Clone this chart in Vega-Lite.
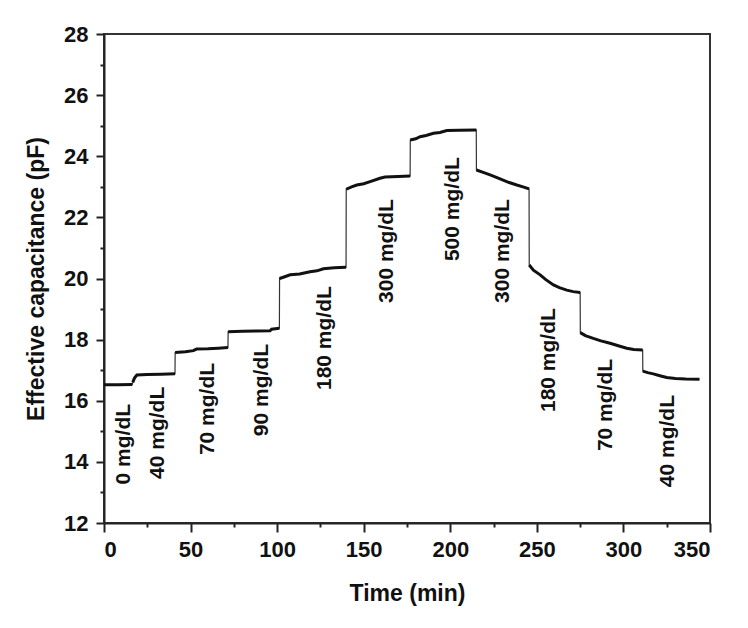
{
  "$schema": "https://vega.github.io/schema/vega-lite/v6.json",
  "width": 606,
  "height": 489,
  "autosize": {"type": "none"},
  "padding": {"left": 104, "top": 34, "right": 38, "bottom": 105},
  "background": "white",
  "config": {
    "view": {"stroke": "#333", "strokeWidth": 2},
    "axis": {"grid": false, "domainColor": "#222", "domainWidth": 2, "tickColor": "#222", "tickWidth": 2,
      "labelFont": "Liberation Sans", "labelFontWeight": "bold", "labelFontSize": 22, "labelColor": "#111",
      "titleFont": "Liberation Sans", "titleFontWeight": "bold", "titleFontSize": 23, "titleColor": "#111"}
  },
  "datasets": {
    "pts": [
      {"i": 1, "seg": 0, "t": 0, "c": 16.52}, {"i": 2, "seg": 0, "t": 8, "c": 16.52}, {"i": 3, "seg": 0, "t": 16.3, "c": 16.53},
      {"i": 4, "seg": 1, "t": 16.6, "c": 16.6}, {"i": 5, "seg": 1, "t": 17.6, "c": 16.74}, {"i": 6, "seg": 1, "t": 19, "c": 16.84}, {"i": 7, "seg": 1, "t": 25, "c": 16.86}, {"i": 8, "seg": 1, "t": 33, "c": 16.87}, {"i": 9, "seg": 1, "t": 41, "c": 16.88},
      {"i": 10, "seg": 2, "t": 41.1, "c": 17.58}, {"i": 11, "seg": 2, "t": 47, "c": 17.6}, {"i": 12, "seg": 2, "t": 51.6, "c": 17.64}, {"i": 13, "seg": 2, "t": 53.5, "c": 17.69}, {"i": 14, "seg": 2, "t": 60, "c": 17.7}, {"i": 15, "seg": 2, "t": 66, "c": 17.72}, {"i": 16, "seg": 2, "t": 71.6, "c": 17.74},
      {"i": 17, "seg": 3, "t": 71.7, "c": 18.26}, {"i": 18, "seg": 3, "t": 80, "c": 18.27}, {"i": 19, "seg": 3, "t": 88, "c": 18.28}, {"i": 20, "seg": 3, "t": 95.9, "c": 18.29}, {"i": 21, "seg": 3, "t": 96.8, "c": 18.34}, {"i": 22, "seg": 3, "t": 101.3, "c": 18.37},
      {"i": 23, "seg": 4, "t": 101.4, "c": 20.0}, {"i": 24, "seg": 4, "t": 104, "c": 20.05}, {"i": 25, "seg": 4, "t": 107.5, "c": 20.12}, {"i": 26, "seg": 4, "t": 113, "c": 20.15}, {"i": 27, "seg": 4, "t": 119, "c": 20.22}, {"i": 28, "seg": 4, "t": 123, "c": 20.25}, {"i": 29, "seg": 4, "t": 126.7, "c": 20.32}, {"i": 30, "seg": 4, "t": 133, "c": 20.35}, {"i": 31, "seg": 4, "t": 139.8, "c": 20.37},
      {"i": 32, "seg": 5, "t": 139.9, "c": 22.92}, {"i": 33, "seg": 5, "t": 143, "c": 23.0}, {"i": 34, "seg": 5, "t": 146, "c": 23.06}, {"i": 35, "seg": 5, "t": 150, "c": 23.1}, {"i": 36, "seg": 5, "t": 153.7, "c": 23.17}, {"i": 37, "seg": 5, "t": 159.4, "c": 23.28}, {"i": 38, "seg": 5, "t": 162.3, "c": 23.32}, {"i": 39, "seg": 5, "t": 170, "c": 23.34}, {"i": 40, "seg": 5, "t": 176.8, "c": 23.35},
      {"i": 41, "seg": 6, "t": 176.9, "c": 24.53}, {"i": 42, "seg": 6, "t": 180, "c": 24.57}, {"i": 43, "seg": 6, "t": 182.6, "c": 24.64}, {"i": 44, "seg": 6, "t": 186, "c": 24.68}, {"i": 45, "seg": 6, "t": 190.3, "c": 24.75}, {"i": 46, "seg": 6, "t": 194, "c": 24.78}, {"i": 47, "seg": 6, "t": 198, "c": 24.84}, {"i": 48, "seg": 6, "t": 205, "c": 24.85}, {"i": 49, "seg": 6, "t": 215, "c": 24.86},
      {"i": 50, "seg": 7, "t": 215.1, "c": 23.55}, {"i": 51, "seg": 7, "t": 219, "c": 23.47}, {"i": 52, "seg": 7, "t": 223, "c": 23.39}, {"i": 53, "seg": 7, "t": 227, "c": 23.3}, {"i": 54, "seg": 7, "t": 230.5, "c": 23.22}, {"i": 55, "seg": 7, "t": 234, "c": 23.14}, {"i": 56, "seg": 7, "t": 238.4, "c": 23.06}, {"i": 57, "seg": 7, "t": 242, "c": 23.0}, {"i": 58, "seg": 7, "t": 245.5, "c": 22.93},
      {"i": 59, "seg": 8, "t": 245.6, "c": 20.44}, {"i": 60, "seg": 8, "t": 248, "c": 20.27}, {"i": 61, "seg": 8, "t": 251.9, "c": 20.12}, {"i": 62, "seg": 8, "t": 255, "c": 19.97}, {"i": 63, "seg": 8, "t": 259.6, "c": 19.79}, {"i": 64, "seg": 8, "t": 263, "c": 19.7}, {"i": 65, "seg": 8, "t": 267.3, "c": 19.62}, {"i": 66, "seg": 8, "t": 271, "c": 19.57}, {"i": 67, "seg": 8, "t": 275, "c": 19.54},
      {"i": 68, "seg": 9, "t": 275.1, "c": 18.23}, {"i": 69, "seg": 9, "t": 278, "c": 18.13}, {"i": 70, "seg": 9, "t": 282.6, "c": 18.04}, {"i": 71, "seg": 9, "t": 287, "c": 17.96}, {"i": 72, "seg": 9, "t": 292.3, "c": 17.88}, {"i": 73, "seg": 9, "t": 297, "c": 17.8}, {"i": 74, "seg": 9, "t": 301.9, "c": 17.72}, {"i": 75, "seg": 9, "t": 306, "c": 17.68}, {"i": 76, "seg": 9, "t": 311.1, "c": 17.66},
      {"i": 77, "seg": 10, "t": 311.2, "c": 16.97}, {"i": 78, "seg": 10, "t": 314, "c": 16.92}, {"i": 79, "seg": 10, "t": 317.3, "c": 16.88}, {"i": 80, "seg": 10, "t": 321, "c": 16.82}, {"i": 81, "seg": 10, "t": 325, "c": 16.76}, {"i": 82, "seg": 10, "t": 330, "c": 16.73}, {"i": 83, "seg": 10, "t": 336, "c": 16.71}, {"i": 84, "seg": 10, "t": 343.9, "c": 16.7}
    ],
    "labels": [
      {"t": 11.5, "c": 14.58, "label": "0 mg/dL"},
      {"t": 31.2, "c": 14.95, "label": "40 mg/dL"},
      {"t": 60, "c": 15.73, "label": "70 mg/dL"},
      {"t": 91.3, "c": 16.35, "label": "90 mg/dL"},
      {"t": 127.7, "c": 18.05, "label": "180 mg/dL"},
      {"t": 163.5, "c": 20.9, "label": "300 mg/dL"},
      {"t": 201.6, "c": 22.27, "label": "500 mg/dL"},
      {"t": 230.5, "c": 20.9, "label": "300 mg/dL"},
      {"t": 257, "c": 17.33, "label": "180 mg/dL"},
      {"t": 290, "c": 15.86, "label": "70 mg/dL"},
      {"t": 325.8, "c": 14.68, "label": "40 mg/dL"}
    ]
  },
  "resolve": {"axis": {"x": "independent", "y": "independent"}},
  "layer": [
    {
      "data": {"name": "pts"},
      "mark": {"type": "line", "color": "#333", "strokeWidth": 1.2},
      "encoding": {
        "x": {"field": "t", "type": "quantitative", "scale": {"domain": [0, 350], "nice": false, "zero": false},
          "axis": {"title": "Time (min)", "values": [0, 50, 100, 150, 200, 250, 300, 350], "tickSize": 9, "labelPadding": 7, "titlePadding": 22, "orient": "bottom"}},
        "y": {"field": "c", "type": "quantitative", "scale": {"domain": [12, 28], "nice": false, "zero": false},
          "axis": {"title": "Effective capacitance (pF)", "values": [12, 14, 16, 18, 20, 22, 24, 26, 28], "tickSize": 8, "labelPadding": 8, "titlePadding": 15, "orient": "left"}},
        "order": {"field": "i", "type": "quantitative"}
      }
    },
    {
      "data": {"name": "pts"},
      "mark": {"type": "line", "color": "#111", "strokeWidth": 3},
      "encoding": {
        "x": {"field": "t", "type": "quantitative",
          "axis": {"title": null, "values": [25, 75, 125, 175, 225, 275, 325], "labels": false, "domain": false, "tickSize": 4, "orient": "bottom"}},
        "y": {"field": "c", "type": "quantitative",
          "axis": {"title": null, "values": [13, 15, 17, 19, 21, 23, 25, 27], "labels": false, "domain": false, "tickSize": 4, "orient": "left"}},
        "detail": {"field": "seg", "type": "nominal"},
        "order": {"field": "i", "type": "quantitative"}
      }
    },
    {
      "data": {"name": "labels"},
      "mark": {"type": "text", "angle": 270, "align": "center", "baseline": "middle", "font": "Liberation Sans", "fontWeight": "bold", "fontSize": 21, "color": "#111"},
      "encoding": {
        "x": {"field": "t", "type": "quantitative", "axis": null},
        "y": {"field": "c", "type": "quantitative", "axis": null},
        "text": {"field": "label"}
      }
    }
  ]
}
